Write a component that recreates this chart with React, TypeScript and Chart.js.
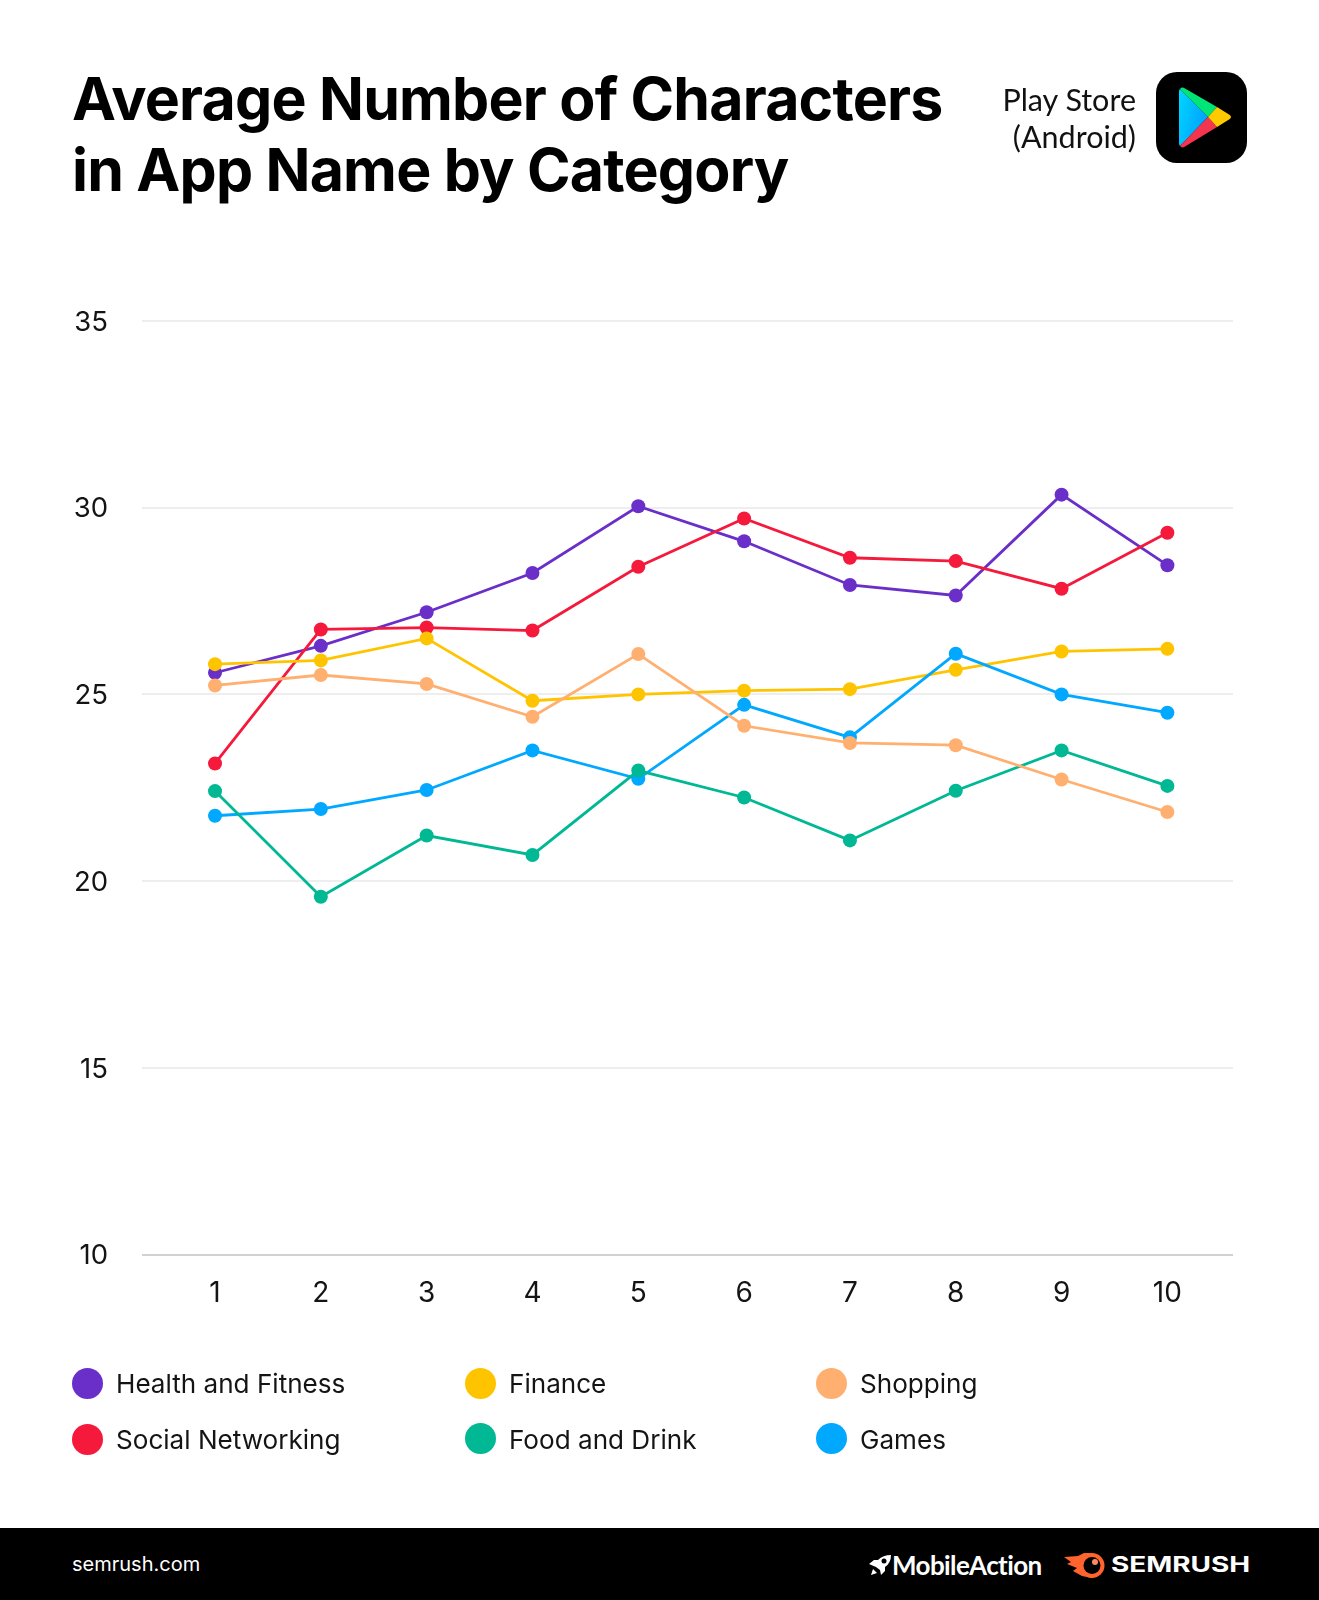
import { useEffect, useRef } from "react"
import { Chart, registerables } from "chart.js"

Chart.register(...registerables)

const FONT = "Inter"

const categories = [1, 2, 3, 4, 5, 6, 7, 8, 9, 10]
const yTicks = [10, 15, 20, 25, 30, 35]

const healthFitness = [25.58, 26.3, 27.2, 28.25, 30.04, 29.1, 27.93, 27.65, 30.35, 28.46]
const socialNetworking = [23.15, 26.74, 26.79, 26.71, 28.42, 29.71, 28.66, 28.57, 27.83, 29.33]
const finance = [25.81, 25.91, 26.5, 24.83, 25.0, 25.1, 25.14, 25.66, 26.15, 26.22]
const foodDrink = [22.41, 19.58, 21.22, 20.7, 22.96, 22.24, 21.09, 22.42, 23.5, 22.55]
const shopping = [25.24, 25.52, 25.28, 24.4, 26.08, 24.16, 23.7, 23.64, 22.72, 21.85]
const games = [21.75, 21.93, 22.44, 23.5, 22.74, 24.72, 23.85, 26.09, 25.0, 24.51]

const series = [
  { label: "Health and Fitness", data: healthFitness, color: "#6a2fc8", order: 6 },
  { label: "Social Networking", data: socialNetworking, color: "#f5193c", order: 5 },
  { label: "Finance", data: finance, color: "#ffc400", order: 4 },
  { label: "Food and Drink", data: foodDrink, color: "#00b894", order: 2 },
  { label: "Shopping", data: shopping, color: "#ffb070", order: 1 },
  { label: "Games", data: games, color: "#00a8ff", order: 3 },
]

const legendItems = [
  { s: series[0], x: 72, y: 1383, textX: 116, textY: 1384 },
  { s: series[1], x: 72, y: 1439, textX: 116, textY: 1440 },
  { s: series[2], x: 465, y: 1383, textX: 509, textY: 1384 },
  { s: series[3], x: 465, y: 1438, textX: 509, textY: 1440 },
  { s: series[4], x: 816, y: 1383, textX: 860, textY: 1384 },
  { s: series[5], x: 816, y: 1438, textX: 860, textY: 1440 },
]

function PlayIcon() {
  return (
    <svg width="91" height="91" viewBox="0 0 91 91" style={{ position: "absolute", left: 1156, top: 72 }}>
      <defs>
        <linearGradient id="playBlue" x1="0" y1="0" x2="1" y2="0.5">
          <stop offset="0" stopColor="#00d8ff" />
          <stop offset="1" stopColor="#00a0ff" />
        </linearGradient>
      </defs>
      <rect width="91" height="91" rx="21" fill="#000" />
      <path d="M24 17 L52 45 L24 74 Q23 73 23 71 L23 20 Q23 18 24 17 Z" fill="url(#playBlue)" />
      <path d="M24 17 Q26 14.500 29 16.500 L61 35 L52 45 Z" fill="#00e676" />
      <path d="M24 74 Q26 76.500 29 74.500 L61 55 L52 45 Z" fill="#f5344f" />
      <path d="M61 35 L73 42.500 Q77 45 73 47.500 L61 55 L52 45 Z" fill="#ffca00" />
    </svg>
  )
}

function FooterLogos() {
  return (
    <>
      <svg width="22" height="20" viewBox="0 0 22 20" style={{ position: "absolute", left: 869, top: 1555 }}>
        <path d="M0 9 L5 5 L9 5 Q14 0 22 0 Q22 8 16 12 L16 16 L12 20 L11 15 L7 12 Z" fill="#fff" />
        <path d="M2 20 L4 14 L8 18 Z" fill="#fff" />
        <circle cx="15" cy="6" r="2.500" fill="#000" />
      </svg>
      <div style={{ position: "absolute", left: 892, top: 1548, fontFamily: "Lato", fontWeight: 700, fontSize: 26, color: "#fff", letterSpacing: -0.6, lineHeight: "34px" }}>
        MobileAction
      </div>
      <svg width="41" height="25" viewBox="0 0 41 25" style={{ position: "absolute", left: 1064, top: 1553 }}>
        <path d="M0 4 L14 3 L20 0 L28 0 L28 25 L18 23 L9 18 L13 15 L3 11 L7 9 Z" fill="#ff642d" />
        <circle cx="28" cy="12.500" r="12.500" fill="#ff642d" />
        <circle cx="28" cy="12.500" r="8.500" fill="#000" />
        <circle cx="31" cy="9" r="3" fill="#ff8a5c" />
      </svg>
      <div style={{ position: "absolute", left: 1111, top: 1548, fontFamily: "Inter", fontWeight: 700, fontSize: 21, color: "#fff", lineHeight: "33px", transform: "scaleX(1.33)", transformOrigin: "left center" }}>
        SEMRUSH
      </div>
    </>
  )
}

export default function App() {
  const chartRef = useRef<HTMLCanvasElement>(null)

  useEffect(() => {
    if (!chartRef.current) return

    const chart = new Chart(chartRef.current, {
      type: "line",
      data: {
        datasets: series.map((s) => ({
          label: s.label,
          data: s.data.map((v, i) => ({ x: categories[i], y: v })),
          borderColor: s.color,
          backgroundColor: s.color,
          pointBackgroundColor: s.color,
          pointBorderWidth: 0,
          pointRadius: 7,
          borderWidth: 2.8,
          tension: 0,
          order: s.order,
        })),
      },
      options: {
        animation: false,
        responsive: false,
        layout: { padding: { top: 321, right: 86, left: 0, bottom: 0 } },
        plugins: { legend: { display: false }, tooltip: { enabled: false } },
        scales: {
          x: {
            type: "linear",
            min: 0.31,
            max: 10.62,
            afterBuildTicks: (axis) => {
              axis.ticks = categories.map((c) => ({ value: c }))
            },
            afterFit: (axis) => {
              axis.height = 345.5
            },
            border: { display: false },
            grid: { display: false },
            ticks: {
              autoSkip: false,
              maxRotation: 0,
              padding: 14,
              color: "#141414",
              font: { family: FONT, size: 28 },
              callback: (v) => String(v),
            },
          },
          y: {
            min: 10,
            max: 35,
            afterBuildTicks: (axis) => {
              axis.ticks = yTicks.map((t) => ({ value: t }))
            },
            afterFit: (axis) => {
              axis.width = 142
            },
            border: { display: false },
            grid: {
              drawTicks: false,
              lineWidth: 2,
              color: (ctx) => (ctx.tick && ctx.tick.value === 10 ? "#d2d2d2" : "#eeeeee"),
            },
            ticks: {
              padding: 34,
              labelOffset: 1.5,
              color: "#141414",
              font: { family: FONT, size: 27.5 },
            },
          },
        },
      },
    })

    return () => {
      chart.destroy()
    }
  }, [])

  return (
    <div style={{ position: "absolute", left: 0, top: 0, width: 1319, height: 1600, background: "#fff", overflow: "hidden" }}>
      <canvas ref={chartRef} width={1319} height={1600} style={{ position: "absolute", left: 0, top: 0, display: "block" }} />

      <div style={{ position: "absolute", left: 72, top: 63, fontFamily: FONT, fontWeight: 700, fontSize: 59, lineHeight: "71px", color: "#000", letterSpacing: -0.8, whiteSpace: "nowrap" }}>
        Average Number of Characters
        <br />
        in App Name by Category
      </div>

      <div style={{ position: "absolute", right: 183, top: 81, fontFamily: "Lato", fontWeight: 400, fontSize: 30.5, lineHeight: "37px", color: "#111", textAlign: "right", whiteSpace: "nowrap" }}>
        Play Store
        <br />
        (Android)
      </div>
      <PlayIcon />

      {legendItems.map(({ s, x, y, textX, textY }) => (
        <div key={s.label}>
          <div style={{ position: "absolute", left: x, top: y - 15.5, width: 31, height: 31, borderRadius: "50%", background: s.color }} />
          <div style={{ position: "absolute", left: textX, top: textY - 20, lineHeight: "40px", fontFamily: FONT, fontSize: 26.1, color: "#141414", whiteSpace: "nowrap" }}>
            {s.label}
          </div>
        </div>
      ))}

      <div style={{ position: "absolute", left: 0, top: 1528, width: 1319, height: 72, background: "#000" }} />
      <div style={{ position: "absolute", left: 72, top: 1550, lineHeight: "28px", fontFamily: FONT, fontSize: 20, color: "#fff" }}>semrush.com</div>
      <FooterLogos />
    </div>
  )
}
